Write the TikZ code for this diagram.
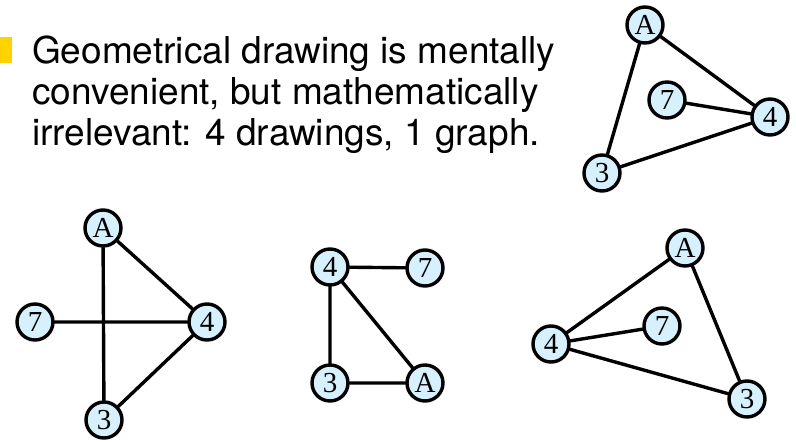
\documentclass[tikz,border=0pt]{standalone}
\usepackage{fontspec}
\setmainfont{TeX Gyre Heros}
\newfontfamily\vfont{Liberation Serif}
\definecolor{vfill}{HTML}{D7F0FD}
\definecolor{bulletgold}{HTML}{FFD200}
\tikzset{
  vtx/.style={circle, draw=black, line width=3.4pt, fill=vfill, minimum size=36pt, inner sep=0pt, font=\vfont\fontsize{29}{29}\selectfont},
  edge/.style={line width=3.4pt}
}
\begin{document}
\begin{tikzpicture}[x=1pt, y=-1pt, line join=round, line cap=round]
  \useasboundingbox (0,0) rectangle (796,442);

  % Punkt und Text
  \fill[bulletgold] (0,37) rectangle (12,63);
  \node[anchor=base west, align=left, inner sep=0pt, font=\fontsize{37}{41}\selectfont] (txt) at (32,145)
    {Geometrical drawing is mentally\\convenient, but mathematically\\irrelevant: 4 drawings, 1 graph.};

  % Zeichnung oben rechts
  \node[vtx] (tA) at (645,25) {A};
  \node[vtx] (t7) at (667,100) {7};
  \node[vtx] (t4) at (770,117) {4};
  \node[vtx] (t3) at (602,173) {3};
  \draw[edge] (tA) -- (t4) (tA) -- (t3) (t7) -- (t4) (t3) -- (t4);

  % Zeichnung unten links
  \node[vtx] (lA) at (103,228) {A};
  \node[vtx] (l7) at (35,322) {7};
  \node[vtx] (l4) at (207,322) {4};
  \node[vtx] (l3) at (104,420) {3};
  \draw[edge] (lA) -- (l3) (l7) -- (l4) (lA) -- (l4) (l3) -- (l4);

  % Zeichnung Mitte
  \node[vtx] (m4) at (330,267) {4};
  \node[vtx] (m7) at (425,268) {7};
  \node[vtx] (m3) at (330,383) {3};
  \node[vtx] (mA) at (425,383) {A};
  \draw[edge] (m4) -- (m7) (m4) -- (m3) (m4) -- (mA) (m3) -- (mA);

  % Zeichnung unten rechts
  \node[vtx] (rA) at (685,248) {A};
  \node[vtx] (r7) at (662,326) {7};
  \node[vtx] (r4) at (551,344) {4};
  \node[vtx] (r3) at (747,399) {3};
  \draw[edge] (rA) -- (r4) (r4) -- (r7) (r4) -- (r3) (rA) -- (r3);
\end{tikzpicture}
\end{document}
